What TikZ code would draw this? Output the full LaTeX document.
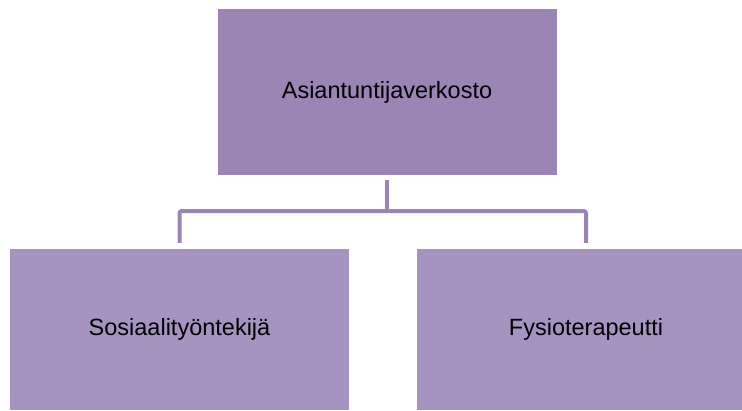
\documentclass[tikz,border=0pt]{standalone}
\usepackage{fontspec}
\setmainfont{Liberation Sans}
\usepackage{tikz}
\usetikzlibrary{positioning}

\definecolor{topfill}{HTML}{9A85B5}
\definecolor{subfill}{HTML}{A693C0}

\begin{document}
\begin{tikzpicture}[
  x=1pt, y=1pt,
  every node/.style={font=\fontsize{23.5}{28}\selectfont, text=black},
  box/.style={draw=none, inner sep=0pt, minimum width=339pt},
  topbox/.style={box, fill=topfill, minimum height=166pt},
  subbox/.style={box, fill=subfill, minimum height=161pt},
  link/.style={draw=topfill, line width=4pt, rounded corners=2pt}
]
\useasboundingbox (0,0) rectangle (742,410);
\clip (0,0) rectangle (742,410);

\node[topbox] (verkosto) at (387,318) {Asiantuntijaverkosto};
\node[subbox] (sosiaali) at (179.5,80.5) {Sosiaalityöntekijä};
\node[subbox] (fysio) at (586,80.5) {Fysioterapeutti};

% haarat ylälaatikosta alas
\coordinate (haara) at ([yshift=-36pt]verkosto.south);
\draw[link] ([yshift=-5pt]verkosto.south) -- (haara);
\draw[link] (haara) -| ([yshift=6pt]sosiaali.north);
\draw[link] (haara) -| ([yshift=6pt]fysio.north);
\end{tikzpicture}
\end{document}
